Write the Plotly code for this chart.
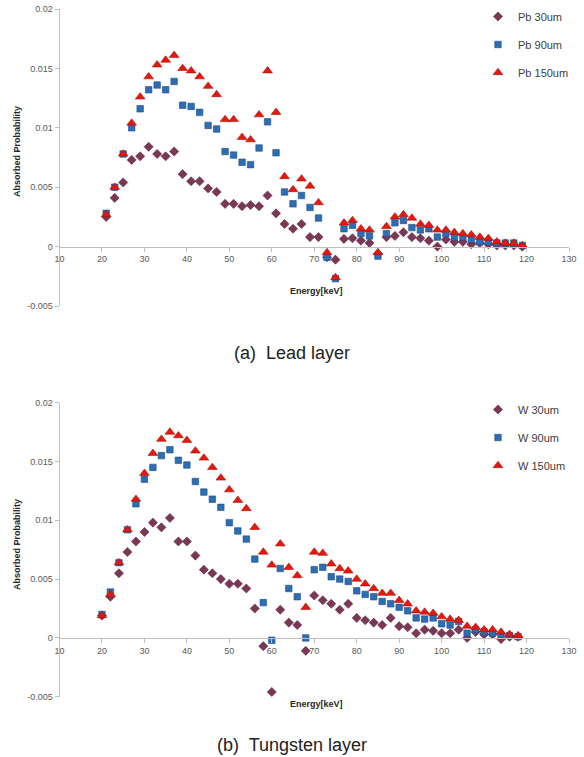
import plotly.graph_objects as go

# ---------------- data ----------------
pb_energy = list(range(21, 120, 2))
pb_30 = [0.0025, 0.0041, 0.0054, 0.0073, 0.0076, 0.0084, 0.0078, 0.0076, 0.0080, 0.0061,
         0.0055, 0.0055, 0.0049, 0.0046, 0.0036, 0.0036, 0.0034, 0.0035, 0.0034, 0.0043,
         0.0028, 0.0019, 0.0015, 0.0019, 0.0008, 0.0008, -0.0009, -0.0011, 0.00065, 0.0007,
         0.0005, 0.0003, -0.0006, 0.0008, 0.0009, 0.0012, 0.0008, 0.0007, 0.0005, 0.0000,
         0.0006, 0.0004, 0.0004, 0.0002, 0.0003, 0.0002, 0.0001, 0.0001, 0.0001, 0.0000]
pb_90 = [0.0028, 0.0050, 0.0078, 0.0100, 0.0116, 0.0132, 0.0136, 0.0132, 0.0139, 0.0119,
         0.0118, 0.0113, 0.0102, 0.0099, 0.0080, 0.0077, 0.0071, 0.0069, 0.0083, 0.0105,
         0.0079, 0.0046, 0.0036, 0.0043, 0.0033, 0.0024, -0.0009, -0.0027, 0.0015, 0.0018,
         0.0011, 0.0009, -0.0008, 0.0011, 0.0020, 0.0022, 0.0016, 0.0014, 0.0015, 0.0008,
         0.0011, 0.0008, 0.0008, 0.0006, 0.0004, 0.0004, 0.0003, 0.0003, 0.0003, 0.0001]
pb_150 = [0.0027, 0.0050, 0.0078, 0.0104, 0.0126, 0.0143, 0.0153, 0.0157, 0.0161, 0.0150,
          0.0148, 0.0143, 0.0135, 0.0128, 0.0107, 0.0107, 0.0092, 0.0090, 0.0111, 0.0148,
          0.0113, 0.0059, 0.0048, 0.0057, 0.0051, 0.0037, -0.0005, -0.0026, 0.0020, 0.0022,
          0.0015, 0.0014, -0.0005, 0.0017, 0.0025, 0.0027, 0.0024, 0.0019, 0.0018, 0.0014,
          0.0014, 0.0012, 0.0011, 0.0010, 0.0008, 0.0007, 0.0004, 0.0003, 0.0003, 0.0001]

w_energy = list(range(20, 119, 2))
w_30 = [0.0019, 0.0035, 0.0055, 0.0073, 0.0082, 0.0090, 0.0098, 0.0094, 0.0102, 0.0082,
        0.0082, 0.0070, 0.0058, 0.0055, 0.0050, 0.0046, 0.0046, 0.0042, 0.0025, -0.0007,
        -0.0046, 0.0024, 0.0013, 0.0011, -0.0011, 0.0036, 0.0032, 0.0029, 0.0024, 0.0029,
        0.0017, 0.0015, 0.0013, 0.0011, 0.0017, 0.0010, 0.0009, 0.0004, 0.0007, 0.0006,
        0.0004, 0.0004, 0.0007, 0.0000, 0.0005, 0.0003, 0.0003, -0.0001, 0.0001, 0.0001]
w_90 = [0.0020, 0.0039, 0.0064, 0.0092, 0.0114, 0.0135, 0.0145, 0.0155, 0.0160, 0.0151,
        0.0147, 0.0133, 0.0124, 0.0118, 0.0111, 0.0098, 0.0091, 0.0084, 0.0067, 0.0030,
        -0.0002, 0.0059, 0.0042, 0.0035, 0.0000, 0.0058, 0.0060, 0.0052, 0.0050, 0.0048,
        0.0040, 0.0037, 0.0035, 0.0031, 0.0029, 0.0026, 0.0023, 0.0017, 0.0016, 0.0017,
        0.0012, 0.0011, 0.0014, 0.0004, 0.0007, 0.0005, 0.0004, 0.0002, 0.0002, 0.0001]
w_150 = [0.0019, 0.0037, 0.0064, 0.0092, 0.0118, 0.0140, 0.0157, 0.0169, 0.0175, 0.0172,
         0.0168, 0.0159, 0.0153, 0.0145, 0.0136, 0.0126, 0.0117, 0.0110, 0.0094, 0.0073,
         0.0062, 0.0080, 0.0060, 0.0053, 0.0026, 0.0073, 0.0072, 0.0063, 0.0059, 0.0057,
         0.0050, 0.0046, 0.0042, 0.0038, 0.0038, 0.0032, 0.0029, 0.0023, 0.0022, 0.0021,
         0.0018, 0.0016, 0.0015, 0.0010, 0.0009, 0.0007, 0.0007, 0.0005, 0.0003, 0.0002]

x_ticks = list(range(10, 131, 10))
y_ticks = [-0.005, 0, 0.005, 0.01, 0.015, 0.02]
y_tick_text = ["-0.005", "0", "0.005", "0.01", "0.015", "0.02"]
x_range = [10, 130]
y_range = [-0.005, 0.02]

# ---------------- styling ----------------
W, H = 584, 757
AX = "#BFBFBF"
TXT = "#595959"
C30, C90, C150 = "#7B3756", "#2C6DB4", "#E5180E"

styles = [
    dict(symbol="diamond", size=7, color=C30, line=dict(color="#5E2840", width=0.6)),
    dict(symbol="square", size=6.5, color=C90, line=dict(color="#1F4F85", width=0.6)),
    dict(symbol="triangle-up", size=8.5, color=C150, line=dict(color="#A81008", width=0.6)),
]

fig = go.Figure()

panels = [
    (pb_energy, [pb_30, pb_90, pb_150], ["Pb 30um", "Pb 90um", "Pb 150um"], "x", "y", "legend"),
    (w_energy, [w_30, w_90, w_150], ["W 30um", "W 90um", "W 150um"], "x2", "y2", "legend2"),
]
for energy, series, names, xa, ya, lg in panels:
    for vals, name, st in zip(series, names, styles):
        fig.add_trace(go.Scatter(
            x=energy, y=vals, mode="markers", name=name, marker=st,
            xaxis=xa, yaxis=ya, legend=lg, legendgroup=name,
        ))

def px_to_paper_y(py):
    return 1 - py / H

xdom = [59.5 / W, 569 / W]
top_dom = [px_to_paper_y(306), px_to_paper_y(9)]
bot_dom = [px_to_paper_y(696.7), px_to_paper_y(402.7)]

def zero_pos(dom):
    return dom[0] + (0 - y_range[0]) / (y_range[1] - y_range[0]) * (dom[1] - dom[0])

tickfont = dict(family="Liberation Sans, Arial, sans-serif", size=9, color=TXT)

def xaxis(dom_y):
    return dict(domain=xdom, range=x_range, anchor="free", position=zero_pos(dom_y),
                tickvals=x_ticks, showline=True, linecolor=AX, linewidth=1,
                ticks="outside", ticklen=4, tickcolor=AX, showgrid=False, zeroline=False,
                tickfont=tickfont, automargin=False)

def yaxis(dom_y, anchor):
    return dict(domain=dom_y, range=y_range, anchor=anchor, tickvals=y_ticks,
                ticktext=y_tick_text, showline=True, linecolor=AX, linewidth=1,
                ticks="outside", ticklen=4, tickcolor=AX, showgrid=False, zeroline=False,
                tickfont=tickfont, automargin=False)

legfont = dict(family="Liberation Sans, Arial, sans-serif", size=11, color="#404040")

fig.update_layout(
    width=W, height=H, margin=dict(l=0, r=0, t=0, b=0),
    paper_bgcolor="white", plot_bgcolor="white",
    xaxis=xaxis(top_dom), yaxis=yaxis(top_dom, "x"),
    xaxis2=xaxis(bot_dom), yaxis2=yaxis(bot_dom, "x2"),
    legend=dict(x=478 / W, y=px_to_paper_y(2), xanchor="left", yanchor="top",
                font=legfont, tracegroupgap=9, bgcolor="rgba(0,0,0,0)", itemwidth=30),
    legend2=dict(x=478 / W, y=px_to_paper_y(395), xanchor="left", yanchor="top",
                 font=legfont, tracegroupgap=9, bgcolor="rgba(0,0,0,0)", itemwidth=30),
    showlegend=True,
)

titlefont = dict(family="Liberation Sans, Arial, sans-serif", size=9, color="#262626")
capfont = dict(family="Liberation Sans, Arial, sans-serif", size=18, color="#222222")

for dom, ytitle_y, xtitle_y, cap_y, cap in [
    (top_dom, 152, 291, 353, "(a)  Lead layer"),
    (bot_dom, 545, 704, 745, "(b)  Tungsten layer"),
]:
    fig.add_annotation(text="<b>Absorbed Probability</b>", textangle=-90, xref="paper", yref="paper",
                       x=17 / W, y=px_to_paper_y(ytitle_y), showarrow=False, font=titlefont,
                       xanchor="center", yanchor="middle")
    fig.add_annotation(text="<b>Energy[keV]</b>", xref="paper", yref="paper",
                       x=316 / W, y=px_to_paper_y(xtitle_y), showarrow=False, font=titlefont,
                       xanchor="center", yanchor="middle")
    fig.add_annotation(text=cap, xref="paper", yref="paper",
                       x=292 / W, y=px_to_paper_y(cap_y), showarrow=False, font=capfont,
                       xanchor="center", yanchor="middle")

fig.write_html(
    "out.html",
    config={"displayModeBar": False},
    post_script="document.body.style.margin='0';document.body.style.overflow='hidden';",
)
